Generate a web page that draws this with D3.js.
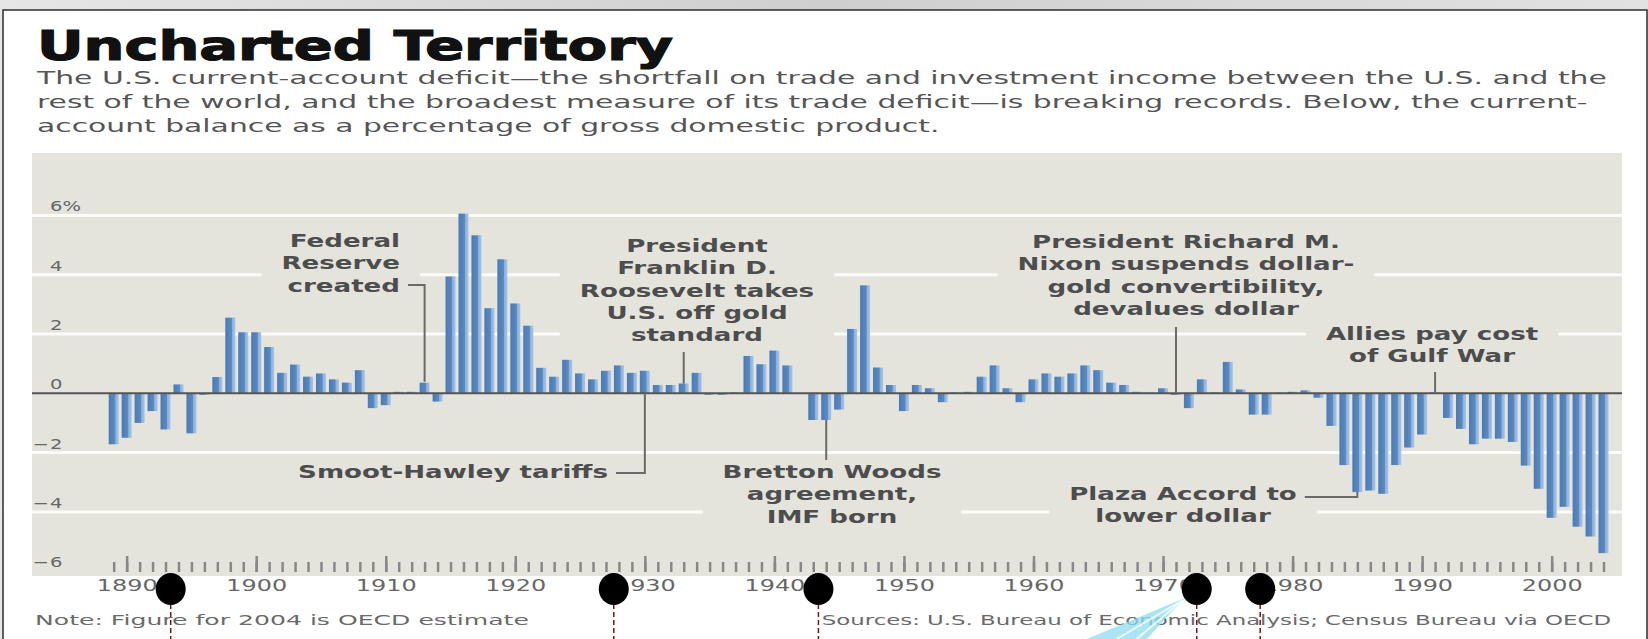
<!DOCTYPE html>
<html>
<head>
<meta charset="utf-8">
<script src="https://cdn.jsdelivr.net/npm/d3@7"></script>
<style>
  html, body { margin: 0; padding: 0; background: #d8d8d8; }
  svg { display: block; }
  text { font-family: "DejaVu Sans", sans-serif; }
  .title { font-weight: bold; fill: #111; stroke: #111; stroke-width: 1.2px; }
  .sub { fill: #555; }
  .note { fill: #6a6a6a; font-size: 14.5px; }
  .ylab { fill: #666; font-size: 13.5px; }
  .ann { fill: #4d4d4d; font-size: 18px; font-weight: bold; }
  .leader { stroke: #6a6a6a; stroke-width: 2; fill: none; }
</style>
</head>
<body>
<div id="chart"></div>
<script>
// Current-account balance, % of GDP, 1889-2004
const years = d3.range(1889, 2005);
const balance = [
  -1.72, -1.5, -1.0, -0.6, -1.22, 0.3, -1.35, -0.05, 0.55, 2.55,   // 1889-1898
  2.06, 2.06, 1.56, 0.69, 0.97, 0.56, 0.67, 0.47, 0.36, 0.78,      // 1899-1908
  -0.5, -0.4, 0.05, 0.05, 0.36, -0.28, 3.94, 6.06, 5.33, 2.87,     // 1909-1918
  4.52, 3.03, 2.28, 0.86, 0.56, 1.13, 0.67, 0.47, 0.76, 0.94,      // 1919-1928
  0.69, 0.76, 0.28, 0.28, 0.33, 0.69, -0.05, -0.05, 0.03, 1.26,    // 1929-1938
  0.98, 1.44, 0.94, 0.0, -0.9, -0.9, -0.55, 2.17, 3.64, 0.87,      // 1939-1948
  0.28, -0.6, 0.28, 0.17, -0.3, 0.03, 0.05, 0.56, 0.94, 0.17,      // 1949-1958
  -0.3, 0.47, 0.67, 0.56, 0.67, 0.94, 0.78, 0.36, 0.28, 0.05,      // 1959-1968
  0.02, 0.17, -0.05, -0.5, 0.47, 0.03, 1.06, 0.13, -0.72, -0.72,   // 1969-1978
  0.02, 0.05, 0.1, -0.15, -1.1, -2.42, -3.33, -3.28, -3.39, -2.42, // 1979-1988
  -1.83, -1.39, 0.03, -0.83, -1.2, -1.72, -1.53, -1.53, -1.64, -2.44, // 1989-1998
  -3.22, -4.2, -3.83, -4.5, -4.83, -5.39                           // 1999-2004
];
const decades = [1890, 1900, 1910, 1920, 1930, 1940, 1950, 1960, 1970, 1980, 1990, 2000];
const yTicks = [6, 4, 2, 0, -2, -4, -6];
const gridValues = [6, 4, 2, -2, -4];

const titleText = "Uncharted Territory";
const subtitleLines = [
  "The U.S. current-account deficit\u2014the shortfall on trade and investment income between the U.S. and the",
  "rest of the world, and the broadest measure of its trade deficit\u2014is breaking records. Below, the current-",
  "account balance as a percentage of gross domestic product."
];
const noteText = "Note: Figure for 2004 is OECD estimate";
const sourceText = "Sources: U.S. Bureau of Economic Analysis; Census Bureau via OECD";

// Event annotations
const events = [
  {year: 1913, lines: ["Federal", "Reserve", "created"], anchor: "end", tx: 400, ty: 247, kind: "elbow", ly: 285},
  {year: 1930, lines: ["Smoot-Hawley tariffs"], anchor: "end", tx: 608, ty: 478, kind: "elbowDown", ly: 473},
  {year: 1933, lines: ["President", "Franklin D.", "Roosevelt takes", "U.S. off gold", "standard"], anchor: "middle", tx: 697, ty: 252, kind: "down", ly: 352},
  {year: 1944, lines: ["Bretton Woods", "agreement,", "IMF born"], anchor: "middle", tx: 832, ty: 478, kind: "up", ly: 460},
  {year: 1971, lines: ["President Richard M.", "Nixon suspends dollar-", "gold convertibility,", "devalues dollar"], anchor: "middle", tx: 1186, ty: 248, kind: "down", ly: 327},
  {year: 1991, lines: ["Allies pay cost", "of Gulf War"], anchor: "middle", tx: 1432, ty: 340, kind: "down", ly: 372},
  {year: 1985, lines: ["Plaza Accord to", "lower dollar"], anchor: "middle", tx: 1183, ty: 500, kind: "elbowUp", ly: 497}
];

// overlay markers sitting on the year axis
const markerYears = [1893.4, 1927.6, 1943.4, 1972.6, 1977.5];

const W = 1648, H = 639;
const SX = 1.45;           // horizontal stretch of the lettering
const panel = {x: 32, y: 153, w: 1590, h: 423};

const svg = d3.select("#chart").append("svg")
  .attr("width", W).attr("height", H);

const defs = svg.append("defs");
const topGrad = defs.append("linearGradient").attr("id", "topband")
  .attr("x1", 0).attr("x2", 1).attr("y1", 0).attr("y2", 0);
topGrad.append("stop").attr("offset", "0%").attr("stop-color", "#e6e6e6");
topGrad.append("stop").attr("offset", "50%").attr("stop-color", "#cfcfcf");
topGrad.append("stop").attr("offset", "100%").attr("stop-color", "#e2e2e2");

const barGrad = defs.append("linearGradient").attr("id", "bar")
  .attr("x1", 0).attr("x2", 1).attr("y1", 0).attr("y2", 0);
barGrad.append("stop").attr("offset", "0%").attr("stop-color", "#4c7bb4");
barGrad.append("stop").attr("offset", "62%").attr("stop-color", "#5b89c1");
barGrad.append("stop").attr("offset", "70%").attr("stop-color", "#8db1dc");
barGrad.append("stop").attr("offset", "100%").attr("stop-color", "#a6c4e6");

// page frame
svg.append("rect").attr("width", W).attr("height", H).attr("fill", "url(#topband)");
svg.append("rect").attr("x", 3).attr("y", 10).attr("width", W - 4).attr("height", H)
  .attr("fill", "#fff").attr("stroke", "#2e2e2e").attr("stroke-width", 1.5);

function stretched(parent, x, y, str, anchor, cls, sx) {
  return parent.append("text")
    .attr("class", cls)
    .attr("text-anchor", anchor)
    .attr("transform", `translate(${x},${y}) scale(${sx || SX},1)`)
    .text(str);
}

// text squeezed/stretched to a measured width
function fitted(parent, x, y, str, anchor, cls, width, size) {
  const t = parent.append("text").attr("class", cls)
    .attr("text-anchor", anchor).style("font-size", size + "px").text(str);
  const k = width / t.node().getComputedTextLength();
  t.attr("transform", `translate(${x},${y}) scale(${k},1)`);
  return k;
}

// Title and subtitle
fitted(svg, 37, 60, titleText, "start", "title", 636, 40);
const subs = subtitleLines.map(s =>
  svg.append("text").attr("class", "sub").style("font-size", "18px").text(s));
const subScale = 1571 / subs[0].node().getComputedTextLength();
subs.forEach((t, i) => t.attr("transform", `translate(37,${84 + i * 24}) scale(${subScale},1)`));

// Scales
const x = d3.scaleLinear().domain([1889, 2004]).range([113.7, 1603.5]);
const y = d3.scaleLinear().domain([-6, 6]).range([571.2, 215.4]);
const barW = 10;

// Panel + gridlines
svg.append("rect").attr("x", panel.x).attr("y", panel.y)
  .attr("width", panel.w).attr("height", panel.h).attr("fill", "#e4e3dc");

svg.append("g").selectAll("line").data(gridValues).join("line")
  .attr("x1", panel.x).attr("x2", panel.x + panel.w)
  .attr("y1", d => y(d)).attr("y2", d => y(d))
  .attr("stroke", "#fbfbf8").attr("stroke-width", 3);

// Y labels
const ylab = svg.append("g");
yTicks.forEach(v => {
  const yy = y(v) - 4;
  const txt = v === 6 ? "6%" : String(Math.abs(v));
  stretched(ylab, 50, yy, txt, "start", "ylab");
  if (v < 0) stretched(ylab, 49, yy, "\u2212", "end", "ylab");
});

// Annotation text blocks, with knockouts that break the gridlines
const annG = svg.append("g");
const knockG = annG.append("g");
const textG = annG.append("g");
events.forEach(ev => {
  const block = textG.append("g");
  ev.lines.forEach((ln, i) => stretched(block, ev.tx, ev.ty + i * 22.3, ln, ev.anchor, "ann"));
  const bb = block.node().getBBox();
  knockG.append("rect")
    .attr("x", bb.x - 20).attr("y", bb.y - 3)
    .attr("width", bb.width + 40).attr("height", bb.height + 6)
    .attr("fill", "#e4e3dc");
  ev.bbox = bb;
});

// Bars
svg.append("g").selectAll("rect").data(years).join("rect")
  .attr("x", (d) => x(d) - barW / 2)
  .attr("width", barW)
  .attr("y", (d, i) => y(Math.max(0, balance[i])))
  .attr("height", (d, i) => Math.abs(y(balance[i]) - y(0)))
  .attr("fill", "url(#bar)");

// Zero line
svg.append("line")
  .attr("x1", panel.x).attr("x2", panel.x + panel.w)
  .attr("y1", y(0)).attr("y2", y(0))
  .attr("stroke", "#555").attr("stroke-width", 2);

// Leaders
const valueOf = yr => balance[years.indexOf(yr)];
events.forEach(ev => {
  const lx = x(ev.year);
  const v = valueOf(ev.year);
  const start = [ev.bbox.x + ev.bbox.width + 8, ev.ly];
  let pts;
  if (ev.kind === "elbow") {
    pts = [start, [lx, ev.ly], [lx, y(Math.max(v, 0)) - 1]];
  } else if (ev.kind === "elbowDown") {
    pts = [start, [lx, ev.ly], [lx, y(0)]];
  } else if (ev.kind === "elbowUp") {
    pts = [start, [lx, ev.ly], [lx, y(v)]];
  } else if (ev.kind === "down") {
    pts = [[lx, ev.ly], [lx, y(Math.max(v, 0))]];
  } else {
    pts = [[lx, y(Math.min(v, 0))], [lx, ev.ly]];
  }
  svg.append("path").attr("class", "leader").attr("d", d3.line()(pts));
});

// Year axis: minor ticks every year, tall ticks + labels each decade
const minor = svg.append("g").attr("transform", "translate(0,562)")
  .call(d3.axisBottom(x).tickValues(years).tickSize(10).tickFormat(""));
const major = svg.append("g").attr("transform", "translate(0,556)")
  .call(d3.axisBottom(x).tickValues(decades).tickSize(16).tickFormat(d3.format("d")));
[minor, major].forEach(g => {
  g.select(".domain").remove();
  g.selectAll(".tick line").attr("stroke", "#888").attr("stroke-width", 2.5);
});
major.selectAll(".tick text")
  .attr("y", null).attr("dy", null)
  .attr("transform", `translate(0,35) scale(${SX},1)`)
  .attr("fill", "#666")
  .style("font-size", "16.5px")
  .style("font-family", "DejaVu Sans, sans-serif");

// Footer
fitted(svg, 35, 625, noteText, "start", "note", 494, 14.5);
fitted(svg, 1611, 625, sourceText, "end", "note", 790, 14.5);

// Overlay markers
const mk = svg.append("g");
mk.selectAll("line").data(markerYears).join("line")
  .attr("x1", d => x(d)).attr("x2", d => x(d))
  .attr("y1", 604).attr("y2", H)
  .attr("stroke", "#7a1212").attr("stroke-width", 1.5)
  .attr("stroke-dasharray", "5,3");
const cx4 = x(markerYears[3]);
mk.append("path")
  .attr("d", `M${cx4 - 12},598 L${cx4 - 110},${H} L${cx4 - 50},${H} Z`)
  .attr("fill", "#8fdcf0").attr("opacity", 0.75);
mk.append("path")
  .attr("d", `M${cx4 - 14},600 L${cx4 - 80},${H} M${cx4 - 14},600 L${cx4 - 60},${H}`)
  .attr("stroke", "#eafaff").attr("stroke-width", 2).attr("fill", "none");
mk.selectAll("ellipse").data(markerYears).join("ellipse")
  .attr("cx", d => x(d)).attr("cy", 589)
  .attr("rx", 15).attr("ry", 16)
  .attr("fill", "#000");
</script>
</body>
</html>
